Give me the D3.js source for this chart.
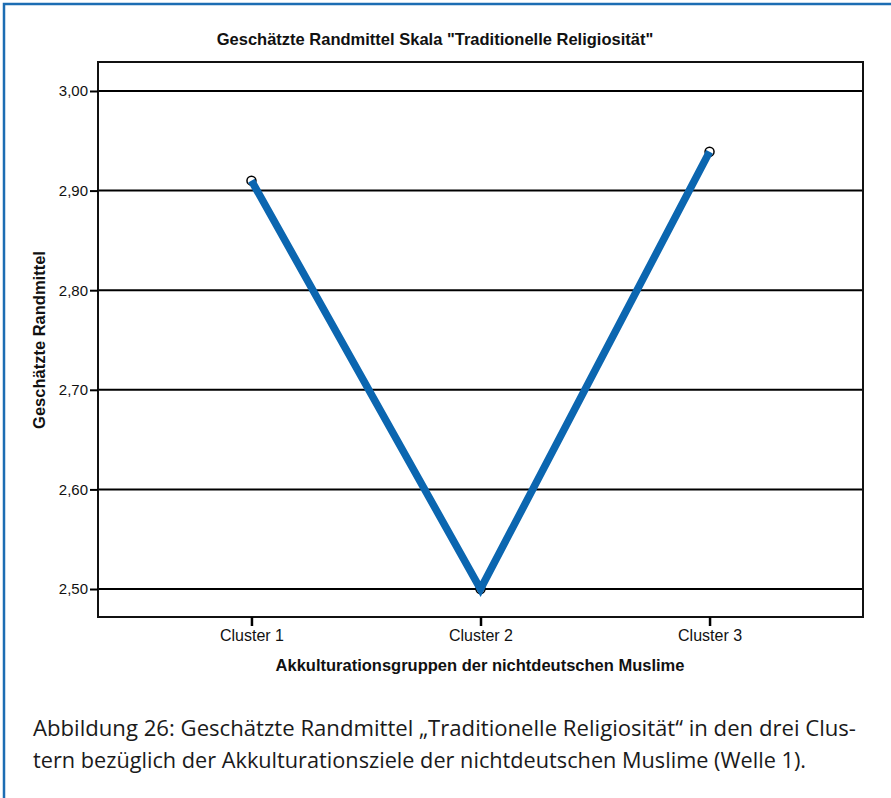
<!DOCTYPE html>
<html>
<head>
<meta charset="utf-8">
<script src="https://cdn.jsdelivr.net/npm/d3@7"></script>
<style>
  body { margin: 0; background: #fff; }
  svg { display: block; }
</style>
</head>
<body>
<div id="root"></div>
<script>
// data
const categories = ['Cluster 1', 'Cluster 2', 'Cluster 3'];
const means = [2.910, 2.500, 2.939];
const yTicks = [2.5, 2.6, 2.7, 2.8, 2.9, 3.0];

const chartTitle = 'Geschätzte Randmittel Skala "Traditionelle Religiosität"';
const xTitle = 'Akkulturationsgruppen der nichtdeutschen Muslime';
const yTitle = 'Geschätzte Randmittel';
const captionLines = [
  'Abbildung 26: Geschätzte Randmittel \u201ETraditionelle Religiosität\u201C in den drei Clus-',
  'tern bezüglich der Akkulturationsziele der nichtdeutschen Muslime (Welle 1).'
];

const width = 891;
const height = 798;
const plot = { left: 98, right: 863, top: 62, bottom: 617 };
const blue = '#0b66b0';
const sans = "'Liberation Sans', Arial, sans-serif";

const svg = d3.select('#root')
  .append('svg')
  .attr('width', width)
  .attr('height', height);

// frame around the figure
svg.append('rect')
  .attr('x', 4).attr('y', 4)
  .attr('width', width + 10).attr('height', height + 10)
  .attr('fill', 'none')
  .attr('stroke', '#1c6db3')
  .attr('stroke-width', 2.5);

const x = d3.scalePoint()
  .domain(categories)
  .range([plot.left, plot.right])
  .padding(0.67);

const y = d3.scaleLinear()
  .domain([2.4719, 3.0291])
  .range([plot.bottom, plot.top]);

// gridlines
svg.append('g')
  .selectAll('line')
  .data(yTicks)
  .join('line')
  .attr('x1', plot.left).attr('x2', plot.right)
  .attr('y1', d => y(d)).attr('y2', d => y(d))
  .attr('stroke', '#000')
  .attr('stroke-width', 2);

// plot box
svg.append('rect')
  .attr('x', plot.left).attr('y', plot.top)
  .attr('width', plot.right - plot.left)
  .attr('height', plot.bottom - plot.top)
  .attr('fill', 'none')
  .attr('stroke', '#111')
  .attr('stroke-width', 2);

const fmt = d => d3.format('.2f')(d).replace('.', ',');

const yAxis = svg.append('g')
  .attr('transform', `translate(${plot.left},0)`)
  .call(d3.axisLeft(y).tickValues(yTicks).tickFormat(fmt).tickSize(8).tickPadding(2));
yAxis.select('.domain').remove();
yAxis.selectAll('line').attr('stroke', '#000').attr('stroke-width', 2);
yAxis.selectAll('text')
  .attr('fill', '#111')
  .style('font-family', sans)
  .style('font-size', '15px');

const xAxis = svg.append('g')
  .attr('transform', `translate(0,${plot.bottom})`)
  .call(d3.axisBottom(x).tickSize(9).tickPadding(4));
xAxis.select('.domain').remove();
xAxis.selectAll('line').attr('stroke', '#000').attr('stroke-width', 2.5);
xAxis.selectAll('text')
  .attr('fill', '#111')
  .style('font-family', sans)
  .style('font-size', '16px');

// markers under the line
svg.append('g')
  .selectAll('circle')
  .data(means)
  .join('circle')
  .attr('cx', (d, i) => x(categories[i]))
  .attr('cy', d => y(d))
  .attr('r', 4.5)
  .attr('fill', '#fff')
  .attr('stroke', '#000')
  .attr('stroke-width', 1.5);

const line = d3.line()
  .x((d, i) => x(categories[i]))
  .y(d => y(d));

svg.append('path')
  .datum(means)
  .attr('d', line)
  .attr('fill', 'none')
  .attr('stroke', blue)
  .attr('stroke-width', 7.5)
  .attr('stroke-linejoin', 'miter')
  .attr('stroke-linecap', 'butt');

// titles
const bold = (sel) => sel
  .attr('text-anchor', 'middle')
  .style('font-family', sans)
  .style('font-weight', 'bold')
  .style('font-size', '16.5px')
  .attr('fill', '#111');

svg.append('text')
  .attr('x', 435).attr('y', 45)
  .call(bold)
  .text(chartTitle);

svg.append('text')
  .attr('x', 480).attr('y', 671)
  .call(bold)
  .text(xTitle);

svg.append('text')
  .attr('transform', 'translate(45,340) rotate(-90)')
  .call(bold)
  .text(yTitle);

// caption
const capLengths = [823, 773];
svg.append('g')
  .selectAll('text')
  .data(captionLines)
  .join('text')
  .attr('x', 33)
  .attr('y', (d, i) => 736 + i * 32)
  .attr('textLength', (d, i) => capLengths[i])
  .attr('lengthAdjust', 'spacingAndGlyphs')
  .style('font-family', "'Open Sans', 'Noto Sans', sans-serif")
  .style('font-size', '21px')
  .attr('fill', '#1a1a1a')
  .text(d => d);
</script>
</body>
</html>
